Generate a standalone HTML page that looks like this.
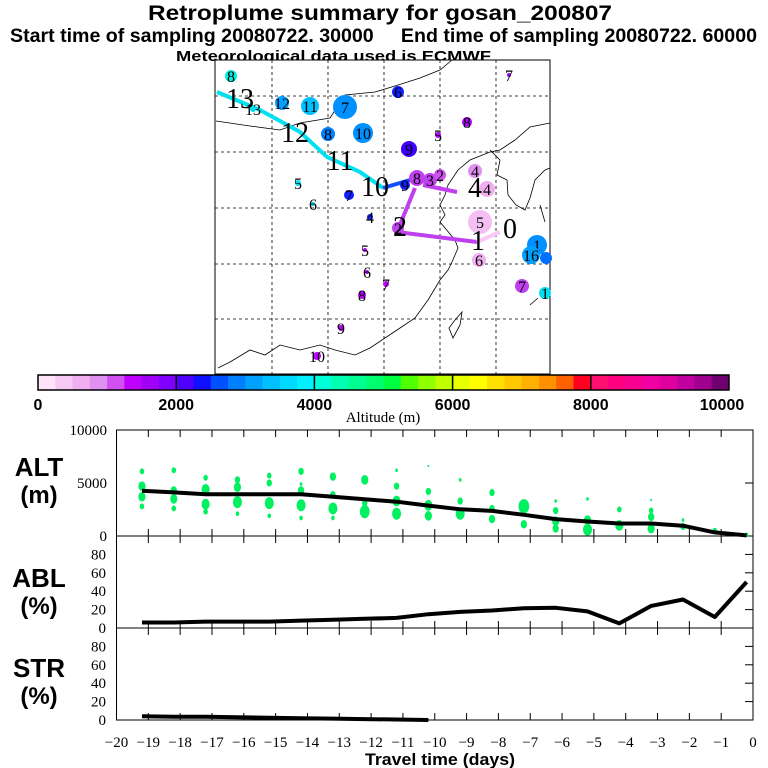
<!DOCTYPE html>
<html><head><meta charset="utf-8"><style>
html,body{margin:0;padding:0;background:#fff;}
svg{display:block;}
text{font-family:"Liberation Sans",sans-serif;}
.serif{font-family:"Liberation Serif",serif;}
</style></head><body>
<svg id="chart" width="768" height="768" viewBox="0 0 768 768">
<text x="148" y="20" font-size="21" font-weight="bold" textLength="464" lengthAdjust="spacingAndGlyphs">Retroplume summary for gosan_200807</text>
<text x="10" y="42" font-size="19" font-weight="bold" textLength="747" lengthAdjust="spacingAndGlyphs" xml:space="preserve">Start time of sampling 20080722. 30000     End time of sampling 20080722. 60000</text>
<text x="176" y="61" font-size="15" font-weight="bold" textLength="315" lengthAdjust="spacingAndGlyphs">Meteorological data used is ECMWF</text>
<g id="map"></g>
<g id="cbar"></g>
<g id="panels"></g>
</svg>
<script>
// ---------- data ----------
const days = [-19.2,-18.2,-17.2,-16.2,-15.2,-14.2,-13.2,-12.2,-11.2,-10.2,-9.2,-8.2,-7.2,-6.2,-5.2,-4.2,-3.2,-2.2,-1.2,-0.2];
const altMean = [4270,4110,3930,3930,3930,3930,3700,3460,3240,2870,2520,2370,2000,1590,1370,1180,1180,970,340,60];
const ablPct = [6,6,7,7,7,8,9,10,11,15,17.5,19,21.5,22,18,5,24,31,12,50];
const strPct = [4,3.5,3.5,3,2.5,2,1.5,1,0.5,0,0,0,0,0,0,0,0,0,0,0];
const clusterAlt = [[6100,4700,3700,2800],[6200,4300,3500,2600],[5500,4400,3000,2300],[5300,4600,3200,2100],[5700,5000,3100,1900],[6100,4900,4300,2900,1700],[5600,3900,2600,1700],[5300,3100,2300],[6200,4700,3300,2100],[6600,4200,2900,1900],[5300,3300,2100],[4100,2600,1600],[2800,1100],[3300,2400,1400,700],[3500,1500,600],[2500,1000],[3400,2400,1800,700],[1500,900],[500],[100]];
const clusterSize = [[2.5,4,4,2.5],[2.5,3.5,4,2.5],[2.5,4.5,4.5,2.5],[3,4,5,2],[2.5,3,5,2],[3,1.5,3.5,5,2],[3.5,3,5,2],[4,3,5.5],[1.5,3,4.5,5],[1,3,4.5,4],[1.5,3,5],[3,3,3.5],[6,3.5],[1.5,3,4,3.5],[1.5,4,5],[2.5,4.5],[1,2.5,3.5,4],[1.5,3],[2.5],[2]];
const xTicks = [-20,-19,-18,-17,-16,-15,-14,-13,-12,-11,-10,-9,-8,-7,-6,-5,-4,-3,-2,-1,0];
const cbarColors = ["#fde4f8","#f8c8f4","#f0b0f0","#e090f0","#d050f0","#c000ff","#a000f8","#8000ff","#5000ff","#1010ff","#0050ff","#0080ff","#00a0ff","#00c0ff","#00d8ff","#00f0ff","#00ffd8","#00ffb0","#00ff90","#00ff70","#00ff40","#50ff00","#90ff00","#c0ff00","#e8ff00","#ffff00","#ffe000","#ffc800","#ffb000","#ff9000","#ff6000","#ff0020","#ff1070","#ff0080","#f80090","#f000a0","#e000a0","#c000a0","#a00090","#700070"];
const cbarLabels = [0,2000,4000,6000,8000,10000];
const mapPts = [[231,76,6,"#00f0e0","8"],[253,109,3,"#00e0f0","13"],[282,103,7,"#00a0ff","12"],[310,106,9,"#00c0ff","11"],[345,107,12,"#0090ff","7"],[398,92,6,"#1020ff","6"],[328,134,7,"#0080ff","8"],[363,133,10,"#0090ff","10"],[438,135,3,"#b000ff","5"],[467,122,5,"#b000ff","8"],[409,149,8,"#4000ff","9"],[475,171,7,"#e090f0","4"],[487,189,8,"#f0b0f0","4"],[298,183,3,"#00e0f0","5"],[313,204,2,"#00e0f0","6"],[349,195,5,"#1020ff","7"],[370,217,3,"#1020ff","4"],[417,178,8,"#c040f0","8"],[430,180,7,"#c040f0","3"],[440,175,6,"#d050f0","2"],[405,185,5,"#1020ff","9"],[480,222,12,"#f4c0f4","5"],[398,228,6,"#c040f0","2"],[479,260,7,"#f0b0f0","6"],[365,250,2,"#c000ff","5"],[367,272,2,"#c000ff","6"],[386,284,3,"#c000ff","7"],[362,295,4,"#c000ff","8"],[341,328,3,"#c000ff","9"],[317,356,4,"#c000ff","10"],[522,286,7,"#c040f0","7"],[537,245,10,"#0090ff","1"],[531,255,9,"#00a0ff","16"],[546,258,6,"#0070ff",""],[545,293,6,"#00e0f0","1"],[509,75,2,"#a000f8","7"]];
const bigLabels = [[240,108,"13"],[295,142,"12"],[340,170,"11"],[375,196,"10"],[475,197,"4"],[478,250,"1"],[510,238,"0"],[400,236,"2"]];

const NS="http://www.w3.org/2000/svg";
function mk(parent,tag,attrs,txt){const e=document.createElementNS(NS,tag);for(const k in attrs)e.setAttribute(k,attrs[k]);if(txt!==undefined)e.textContent=txt;parent.appendChild(e);return e;}

const X0=116.5,X1=753;
const xs=t=>X0+(t+20)/20*(X1-X0);
const altY=v=>536-v/10000*106;
const ablY=v=>628-v/100*92;
const strY=v=>720-v/100*92;

// ---------- map ----------
const map=document.getElementById('map');
mk(map,'rect',{x:215,y:60,width:335,height:314,fill:'#fff',stroke:'#000','stroke-width':1});
[272,328,384,440,496].forEach(x=>mk(map,'line',{x1:x,y1:60,x2:x,y2:374,stroke:'#000','stroke-dasharray':'3,3','stroke-width':0.8}));
[96,152,208,264,319].forEach(y=>mk(map,'line',{x1:215,y1:y,x2:550,y2:y,stroke:'#000','stroke-dasharray':'3,3','stroke-width':0.8}));
const coasts=["M216,121 L250,126 L280,130 L300,123 L330,118 L345,95 L375,92 L395,86 L420,78 L440,70 L452,60",
"M550,123 L530,127 L515,140 L500,150 L490,152 L470,160 L458,170 L448,185 L445,195 L440,205 L445,215 L440,222 L455,240 L458,248 L452,262 L448,270 L440,280 L428,300 L415,318 L400,328 L385,338 L370,348 L355,355 L335,350 L320,345 L300,350 L280,345 L265,355 L250,350 L230,362 L218,368",
"M490,150 L500,160 L497,175 L507,180 L508,195 L516,205 L525,210 L530,198 L535,180 L545,170 L550,168",
"M455,320 L462,312 L460,325 L453,338 L449,328 Z",
"M540,205 L545,222 M530,305 L538,298"];
coasts.forEach((d,i)=>{const p=mk(map,'path',{d:d,fill:'none',stroke:'#000','stroke-width':0.8});});
mk(map,'path',{d:"M217,92 L260,110 L300,132 L327,157 L360,172 L383,188",fill:'none',stroke:'#00e0f0','stroke-width':4});
mk(map,'path',{d:"M383,188 L410,180",fill:'none',stroke:'#1050ff','stroke-width':4});
mk(map,'path',{d:"M415,188 L397,232 L477,242",fill:'none',stroke:'#c040f0','stroke-width':4});
mk(map,'path',{d:"M423,185 L457,192",fill:'none',stroke:'#c040f0','stroke-width':4});
mk(map,'path',{d:"M477,242 L500,232",fill:'none',stroke:'#f8c8f8','stroke-width':4});
mapPts.forEach((p,i)=>{
  const c=mk(map,'circle',{cx:p[0],cy:p[1],r:p[2],fill:p[3]});
  
  
  if(p[4]){const t=mk(map,'text',{x:p[0],y:p[1]+6,'text-anchor':'middle','font-size':16,class:'serif'},p[4]);
  
  }
});
bigLabels.forEach((b,i)=>{const t=mk(map,'text',{x:b[0],y:b[1],'text-anchor':'middle','font-size':28,class:'serif'},b[2]);

});

// ---------- colorbar ----------
const cb=document.getElementById('cbar');
const CB0=38,CB1=729,cw=(CB1-CB0)/cbarColors.length;
cbarColors.forEach((c,i)=>{const r=mk(cb,'rect',{x:CB0+i*cw,y:375,width:cw+0.5,height:15,fill:c});

});
mk(cb,'rect',{x:CB0,y:375,width:CB1-CB0,height:15,fill:'none',stroke:'#000','stroke-width':1.5});
cbarLabels.forEach((v,i)=>{const x=CB0+v/10000*(CB1-CB0);
 if(i>0&&i<cbarLabels.length-1)mk(cb,'line',{x1:x,y1:375,x2:x,y2:390,stroke:'#000','stroke-width':1.5});
 const t=mk(cb,'text',{x:Math.min(Math.max(x,34),744-22),y:410,'text-anchor':'middle','font-size':16,'font-weight':'bold'},String(v));
 
 });
mk(cb,'text',{x:383,y:422,'text-anchor':'middle','font-size':15,class:'serif'},'Altitude (m)');

// ---------- panels ----------
const pn=document.getElementById('panels');
[[430,536],[536,628],[628,720]].forEach((r,k)=>{
 mk(pn,'rect',{x:X0,y:r[0],width:X1-X0,height:r[1]-r[0],fill:'none',stroke:'#000','stroke-width':1});
 xTicks.slice(1,-1).forEach(t=>{const x=xs(t);
  mk(pn,'line',{x1:x,y1:r[0],x2:x,y2:r[0]+7,stroke:'#000'});
  mk(pn,'line',{x1:x,y1:r[1],x2:x,y2:r[1]-7,stroke:'#000'});});
});
[[0,'0'],[5000,'5000'],[10000,'10000']].forEach(a=>{const y=altY(a[0]);
 mk(pn,'text',{x:107,y:y+5,'text-anchor':'end','font-size':15,class:'serif'},a[1]);
 if(a[0]==5000)mk(pn,'line',{x1:X1-8,y1:y,x2:X1,y2:y,stroke:'#000'});});
[0,20,40,60,80].forEach(v=>{[ablY,strY].forEach(f=>{const y=f(v);
 mk(pn,'text',{x:106,y:y+5,'text-anchor':'end','font-size':15,class:'serif'},String(v));
 if(v>0)mk(pn,'line',{x1:X1-8,y1:y,x2:X1,y2:y,stroke:'#000'});});});
xTicks.forEach(t=>{const l=mk(pn,'text',{x:xs(t),y:747,'text-anchor':'middle','font-size':15,class:'serif'},(t<0?'\u2212':'')+Math.abs(t));
 
 });
mk(pn,'text',{x:365,y:765,'font-size':17,'font-weight':'bold',textLength:150,lengthAdjust:'spacingAndGlyphs'},'Travel time (days)');
[['ALT','(m)',476],['ABL','(%)',587],['STR','(%)',677]].forEach(l=>{
 mk(pn,'text',{x:39,y:l[2],'text-anchor':'middle','font-size':26,'font-weight':'bold'},l[0]);
 mk(pn,'text',{x:39,y:l[2]+27,'text-anchor':'middle','font-size':24,'font-weight':'bold'},l[1]);});
clusterAlt.forEach((col,i)=>col.forEach((a,j)=>{
 const c=mk(pn,'ellipse',{cx:xs(days[i]),cy:altY(a),rx:clusterSize[i][j]*0.9,ry:clusterSize[i][j]*1.2,fill:'#00f060'});
 
 }));
function line(vals,f,name,stopAtZero){let n=vals.length;
 if(stopAtZero){n=vals.findIndex(v=>v<=0);if(n<0)n=vals.length;n=Math.min(vals.length,n+1);}
 const d=vals.slice(0,n).map((v,i)=>(i?'L':'M')+xs(days[i]).toFixed(1)+','+f(v).toFixed(1)).join(' ');
 const p=mk(pn,'path',{d:d,fill:'none',stroke:'#000','stroke-width':4,'stroke-linejoin':'round'});
 
 }
line(altMean,altY,'alt-mean-line');
line(ablPct,ablY,'abl-line');
line(strPct,strY,'str-line',true);
</script>
</body></html>
